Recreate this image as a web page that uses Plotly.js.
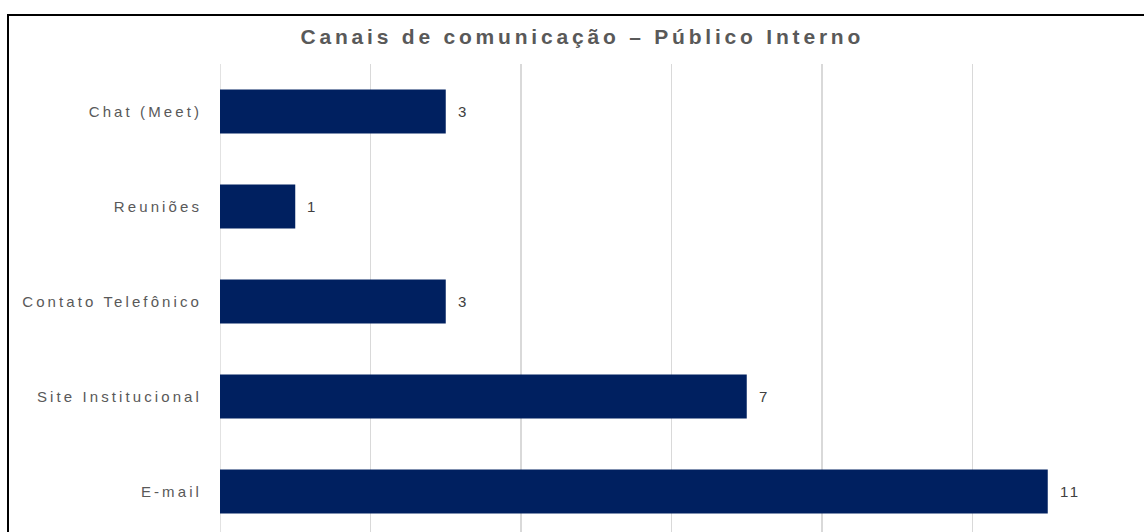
<!DOCTYPE html>
<html>
<head>
<meta charset="utf-8">
<script src="https://cdn.plot.ly/plotly-3.0.1.min.js"></script>
<style>
  html, body { margin: 0; padding: 0; background: #fff; overflow: hidden; }
  #wrap { position: relative; width: 1144px; height: 532px; }
  #chart { position: absolute; left: 0; top: 0; width: 1144px; height: 532px; }
  #frame { position: absolute; left: 7px; top: 14px; right: -10px; bottom: -10px;
           border-left: 2px solid #000; border-top: 2px solid #000; pointer-events: none; }
  .ytick text { letter-spacing: 3.1px; }
  .annotation-text { letter-spacing: 2.5px; }
  .gtitle { letter-spacing: 3.8px; }
</style>
</head>
<body>
<div id="wrap">
  <div id="chart"></div>
  <div id="frame"></div>
</div>
<script>
const titleText = "Canais de comunicação – Público Interno";
const categories = ["Chat (Meet)", "Reuniões", "Contato Telefônico", "Site Institucional", "E-mail"];
const values = [3, 1, 3, 7, 11];
const xTicks = [0, 2, 4, 6, 8, 10, 12];

const trace = {
  type: 'bar',
  orientation: 'h',
  x: values,
  y: categories,
  width: 0.465,
  marker: { color: '#002060' },
  hoverinfo: 'x+y'
};

const annotations = values.map((v, i) => ({
  x: v, y: categories[i], xref: 'x', yref: 'y',
  text: String(v), showarrow: false, xanchor: 'left', yanchor: 'middle',
  xshift: 10, font: { family: 'Liberation Sans, Arial, sans-serif', size: 15, color: '#404040' }
}));

const layout = {
  width: 1144, height: 532,
  margin: { l: 220, r: 21, t: 64, b: 0, pad: 0 },
  paper_bgcolor: 'rgba(0,0,0,0)', plot_bgcolor: '#ffffff',
  showlegend: false,
  title: {
    text: '<b>' + titleText + '</b>',
    x: 0.509, xanchor: 'center', xref: 'container',
    y: 1 - 37 / 532, yanchor: 'middle', yref: 'container',
    font: { family: 'Liberation Sans, Arial, sans-serif', size: 21, color: '#595959' }
  },
  xaxis: {
    range: [0, 12], tickvals: xTicks, showticklabels: false,
    showgrid: true, gridcolor: '#d9d9d9', gridwidth: 1.5,
    zeroline: false, showline: false, fixedrange: true
  },
  yaxis: {
    type: 'category', categoryorder: 'array', categoryarray: categories,
    range: [-0.5 + 468 / 95, -0.5],
    showgrid: false, zeroline: false, showline: false,
    ticks: '', ticklabelstandoff: 17,
    tickfont: { family: 'Liberation Sans, Arial, sans-serif', size: 15, color: '#595959' },
    fixedrange: true
  },
  shapes: [{
    type: 'line', xref: 'x', yref: 'paper', x0: 0, x1: 0, y0: 0, y1: 1,
    line: { color: '#d9d9d9', width: 1.5 }, layer: 'below'
  }],
  annotations: annotations
};

Plotly.newPlot('chart', [trace], layout, { displayModeBar: false, staticPlot: true });
</script>
</body>
</html>
